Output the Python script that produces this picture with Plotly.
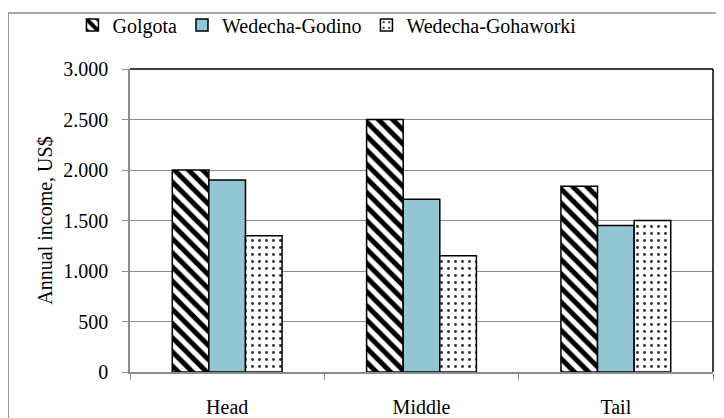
import plotly.graph_objects as go

positions = ["Head", "Middle", "Tail"]
golgota = [2000, 2500, 1840]
wedecha_godino = [1900, 1710, 1450]
wedecha_gohaworki = [1350, 1150, 1500]

serif = "Times New Roman, Liberation Serif, serif"
grey = "#8C8C8C"
# the page adds an 8px body margin, so everything is shifted up/left by 8px here
off = 8

fig = go.Figure()
fig.add_trace(go.Bar(
    x=positions, y=golgota, name="Golgota",
    marker=dict(color="white", line=dict(color="black", width=1.5),
                pattern=dict(shape="\\", fgcolor="black", bgcolor="white", fgopacity=1,
                             size=10, solidity=0.5)),
))
fig.add_trace(go.Bar(
    x=positions, y=wedecha_godino, name="Wedecha-Godino",
    marker=dict(color="#92C6D3", line=dict(color="black", width=1.5)),
))
fig.add_trace(go.Bar(
    x=positions, y=wedecha_gohaworki, name="Wedecha-Gohaworki",
    marker=dict(color="white", line=dict(color="black", width=1.5),
                pattern=dict(shape=".", fgcolor="#333333", bgcolor="white", fgopacity=1,
                             size=7, solidity=0.14)),
))

fig.update_layout(
    width=724, height=418,
    margin=dict(l=130 - off, r=19, t=69 - off, b=46 + off),
    paper_bgcolor="white", plot_bgcolor="white",
    font=dict(family=serif, size=20, color="black"),
    separators=",.",
    barmode="group", bargap=0.435, bargroupgap=0,
    showlegend=True,
    legend=dict(orientation="h", xref="container", x=0.089, xanchor="left",
                yref="container", y=1 - 17 / 418, yanchor="middle",
                font=dict(family=serif, size=20, color="black"), itemwidth=30,
                traceorder="normal", bgcolor="rgba(0,0,0,0)"),
)

fig.update_yaxes(
    title=dict(text="Annual income, US$", standoff=5, font=dict(family=serif, size=20)),
    tickfont=dict(family=serif, size=20, color="black"),
    range=[0, 3000], dtick=500, tickformat=",d",
    showgrid=True, gridcolor=grey, gridwidth=1,
    showline=True, linecolor=grey, linewidth=1.5,
    ticks="outside", ticklen=6, tickcolor=grey, ticklabelstandoff=10,
    zeroline=False, automargin=False,
)
fig.update_xaxes(
    tickfont=dict(family=serif, size=20, color="black"),
    showline=True, linecolor=grey, linewidth=2,
    ticks="outside", ticklen=6, tickcolor=grey, tickson="boundaries",
    ticklabelstandoff=16,
    showgrid=False, automargin=False,
)

# black plot-area border on top and right
fig.add_shape(type="line", xref="paper", yref="paper", x0=0, x1=1, y0=1, y1=1,
              line=dict(color="black", width=1.5))
fig.add_shape(type="line", xref="paper", yref="paper", x0=1, x1=1, y0=0, y1=1,
              line=dict(color="black", width=1.5))
# outer chart-area border (top and left visible)
fig.add_shape(type="rect", xref="paper", yref="paper", x0=-0.209, x1=1.1, y0=-0.4, y1=1.185,
              line=dict(color=grey, width=1.5), layer="below")

fig.write_html("out.html")
